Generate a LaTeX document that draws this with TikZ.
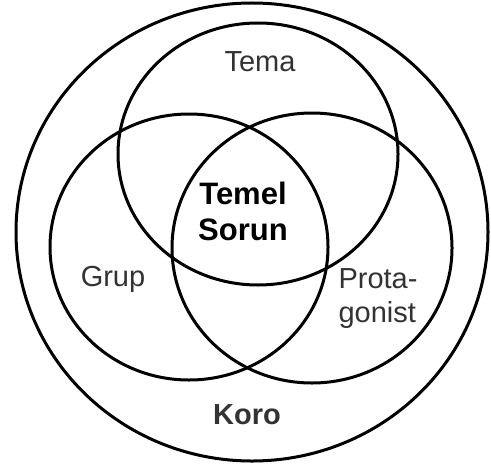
\documentclass[tikz,border=0pt]{standalone}
\usepackage{fontspec}
\setmainfont{Liberation Sans}
\usepackage{tikz}

\tikzset{
  ring/.style={line width=1.5pt},
  lbl/.style={font=\fontsize{14.5}{17}\selectfont,text=black!80,inner sep=0pt},
  core/.style={font=\fontsize{15.5}{18}\selectfont\bfseries,align=center,inner sep=0pt}
}

\begin{document}
\begin{tikzpicture}[x=0.5pt,y=-0.5pt]
  \useasboundingbox (0,0) rectangle (491,465);
  \fill[white] (0,0) rectangle (491,465);
  % outer ring and three sets
  \draw[ring] (252,232) ellipse (236 and 229);
  \draw[ring] (258,154) ellipse (140 and 131);
  \draw[ring] (189,247) ellipse (139 and 133);
  \draw[ring] (312,248) ellipse (140 and 135);
  \node[lbl] (tema) at (260,62) {Tema};
  \node[core] (sorun) at (243,211) {Temel\\Sorun};
  \node[lbl] (grup) at (113,279) {Grup};
  \node[lbl,align=left] (prota) at (378,299) {Prota-\\gonist};
  \node[lbl,font=\fontsize{14.5}{17}\selectfont\bfseries] (koro) at (247,415) {Koro};
\end{tikzpicture}
\end{document}
